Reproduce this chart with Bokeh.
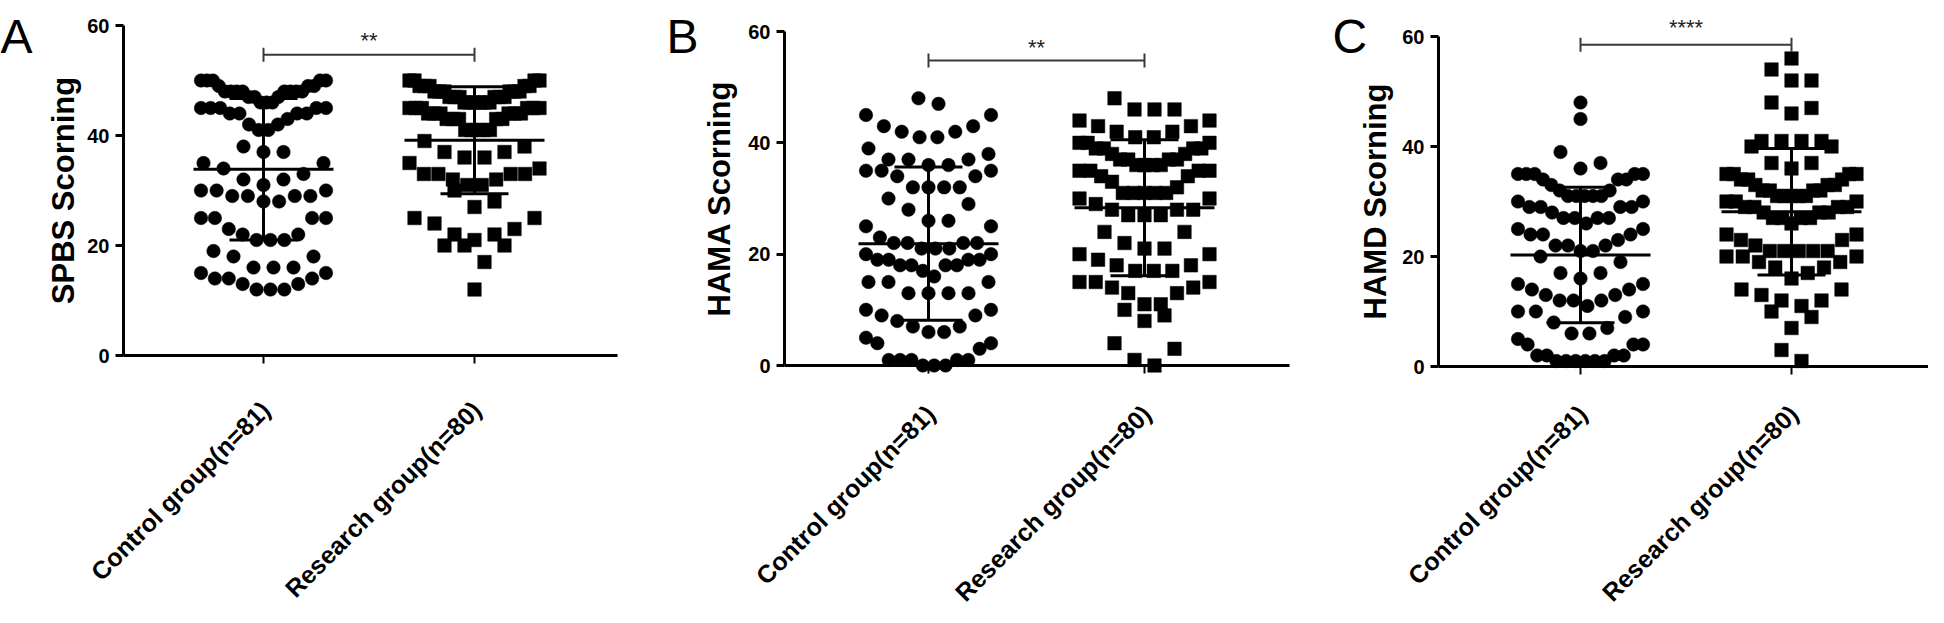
import math
import numpy as np
from bokeh.plotting import figure
from bokeh.models import Range1d, FixedTicker, Label
from bokeh.layouts import row
from bokeh.embed import file_html
from bokeh.resources import INLINE
from bokeh.core.properties import value

# ---------------- data ----------------
groups = ["Control group(n=81)", "Research group(n=80)"]
panel_letters = ["A", "B", "C"]
y_titles = ["SPBS Scorning", "HAMA Scorning", "HAMD Scorning"]
significance = ["**", "**", "****"]
y_ticks = [0, 20, 40, 60]

spbs_control = [50, 50, 50, 50, 50, 49, 49, 49, 48, 48, 48, 48, 48, 48, 48, 48,
                47, 47, 47, 46, 46, 46, 45, 45, 45, 45, 45, 44, 44, 44, 44, 43,
                42, 42, 41, 41, 38, 37, 37, 35, 35, 34, 33, 32, 32, 31, 30, 30,
                30, 29, 29, 29, 29, 28, 28, 25, 25, 25, 25, 23, 22, 22, 21, 21,
                21, 19, 18, 18, 16, 16, 16, 15, 15, 14, 14, 14, 13, 13, 12, 12, 12]
spbs_research = [50, 50, 50, 50, 49, 49, 49, 49, 49, 48, 48, 48, 48, 48, 48,
                 47, 47, 47, 47, 47, 47, 46, 46, 46, 46, 46, 46, 45, 45, 45, 45,
                 45, 45, 44, 44, 44, 44, 44, 44, 43, 43, 43, 43, 43, 41, 41, 41,
                 41, 41, 39, 38, 37, 37, 36, 36, 35, 34, 33, 33, 33, 33, 32, 32,
                 31, 31, 30, 28, 27, 25, 25, 24, 23, 22, 22, 21, 20, 20, 20, 17, 12]

hama_control = [48, 47, 45, 45, 43, 43, 42, 42, 41, 41, 39, 38, 37, 37, 37, 36,
                36, 35, 35, 35, 34, 34, 32, 32, 32, 32, 30, 29, 28, 26, 26, 25,
                25, 23, 22, 22, 22, 22, 21, 21, 21, 20, 20, 19, 19, 19, 19, 18,
                18, 18, 18, 17, 16, 15, 15, 15, 13, 13, 13, 13, 10, 10, 9, 9, 8,
                7, 7, 6, 6, 5, 4, 4, 3, 1, 1, 1, 1, 1, 0, 0, 0]
hama_research = [48, 46, 46, 46, 44, 44, 43, 43, 42, 42, 41, 41, 40, 40, 40, 39,
                 39, 39, 39, 38, 38, 37, 37, 37, 37, 36, 36, 36, 36, 35, 35, 35,
                 35, 34, 34, 33, 32, 31, 31, 31, 31, 31, 30, 30, 29, 28, 28, 28,
                 27, 27, 27, 24, 24, 22, 21, 21, 20, 20, 19, 18, 18, 17, 17, 17,
                 15, 15, 15, 14, 14, 13, 13, 11, 11, 10, 9, 8, 4, 3, 1, 0]

hamd_control = [48, 45, 39, 37, 36, 35, 35, 35, 35, 35, 34, 34, 34, 33, 32, 32,
                31, 31, 31, 31, 31, 30, 30, 29, 29, 29, 29, 28, 27, 27, 27, 27,
                26, 25, 25, 24, 24, 24, 23, 22, 22, 22, 21, 21, 20, 19, 17, 17,
                16, 15, 15, 14, 14, 13, 13, 12, 12, 12, 11, 10, 10, 10, 9, 8, 7,
                6, 6, 5, 4, 4, 4, 2, 2, 2, 2, 1, 1, 1, 1, 1, 1]
hamd_research = [56, 54, 52, 52, 48, 47, 46, 41, 41, 41, 41, 40, 40, 37, 37, 36,
                 35, 35, 35, 35, 34, 34, 34, 33, 33, 33, 32, 32, 32, 32, 31, 31,
                 31, 31, 31, 30, 30, 30, 29, 29, 29, 29, 28, 28, 28, 27, 27, 27,
                 27, 26, 24, 24, 23, 23, 22, 21, 21, 21, 21, 21, 20, 20, 20, 19,
                 19, 18, 18, 17, 16, 14, 14, 13, 12, 12, 11, 10, 9, 7, 3, 1]

controls = [spbs_control, hama_control, hamd_control]
researches = [spbs_research, hama_research, hamd_research]

FONT = "Liberation Sans"
H = 607


def scatter_offsets(vals, spacing=20.0, wmax=125.0):
    """Prism-like column scatter: values grouped in 5-unit bands, each band laid
    out as a row (lowest values in the middle), returned as pixel offsets."""
    vals = list(vals)
    bands = {}
    for i, v in enumerate(vals):
        bands.setdefault(max(v - 1, 0) // 5, []).append(i)
    off = np.zeros(len(vals))
    for idxs in bands.values():
        idxs = sorted(idxs, key=lambda i: vals[i])
        n = len(idxs)
        s = spacing if n < 2 else min(spacing, wmax / (n - 1))
        slots = []
        if n % 2 == 1:
            slots.append(0.0)
            j = 1
            while len(slots) < n:
                slots += [j * s, -j * s]
                j += 1
        else:
            j = 0
            while len(slots) < n:
                slots += [(j + 0.5) * s, -(j + 0.5) * s]
                j += 1
        for k, i in enumerate(idxs):
            off[i] = slots[k]
    return off


def panel(idx, fig_w, fl, fr, cat1, cat2, y0, y60, bracket_v, star_v,
          letter_px, letter_base, title_px):
    ctrl, res = controls[idx], researches[idx]
    ppu = (y0 - y60) / 60.0
    ppx = float(cat2 - cat1)

    def xd(px):
        return 1 + (px - cat1) / ppx

    def yd(py):
        return (y0 - py) / ppu

    p = figure(width=fig_w, height=H, output_backend="svg", toolbar_location=None,
               x_range=Range1d(xd(0), xd(fig_w)), y_range=Range1d(yd(H), yd(0)),
               min_border_left=0, min_border_right=0,
               min_border_top=0, min_border_bottom=0)
    p.outline_line_color = None
    p.grid.visible = False
    p.background_fill_color = "white"
    p.border_fill_color = "white"

    # points
    for cat, vals, marker, wmax in ((1, ctrl, "circle", 125.0), (2, res, "square", 130.0)):
        off = scatter_offsets(vals, 20.0, wmax)
        xv = cat + off / ppx
        p.scatter(xv, vals, marker=marker, size=13.5, fill_color="black",
                  line_color="black", line_width=0.5)

    # mean and SD
    for cat, vals in ((1, ctrl), (2, res)):
        m = float(np.mean(vals))
        s = float(np.std(vals, ddof=1))
        hw = 70 / ppx
        cw = 34 / ppx
        p.segment(x0=[cat - hw, cat - cw, cat - cw, cat], y0=[m, m + s, m - s, m - s],
                  x1=[cat + hw, cat + cw, cat + cw, cat], y1=[m, m + s, m - s, m + s],
                  line_color="black", line_width=3)

    # significance bracket
    tick = 7 / ppu
    p.segment(x0=[1, 1, 2], y0=[bracket_v, bracket_v - tick, bracket_v - tick],
              x1=[2, 1, 2], y1=[bracket_v, bracket_v + tick, bracket_v + tick],
              line_color="#3a3a3a", line_width=2)
    p.text(x=[1.5], y=[star_v], text=[significance[idx]], text_align="center",
           text_baseline="alphabetic", text_font=value(FONT), text_font_size="22px",
           text_color="#222222")

    # axes
    ya = p.yaxis[0]
    ya.fixed_location = xd(fl)
    ya.ticker = FixedTicker(ticks=y_ticks)
    ya.bounds = (0, 60)
    ya.axis_line_width = 3
    ya.major_tick_line_width = 3
    ya.major_tick_out = 8
    ya.major_tick_in = 0
    ya.minor_tick_line_color = None
    ya.major_label_text_font = FONT
    ya.major_label_text_font_style = "bold"
    ya.major_label_text_font_size = "20px"
    ya.major_label_text_color = "black"
    ya.major_label_standoff = 6
    ya.axis_label_text_font_size = "0px"

    # y-axis title as rotated text
    p.text(x=[xd(title_px)], y=[30], text=[y_titles[idx]], angle=math.pi / 2,
           text_align="center", text_baseline="middle", text_font=value(FONT),
           text_font_style="bold", text_font_size="31px", text_color="black")

    xa = p.xaxis[0]
    xa.fixed_location = 0
    xa.bounds = (xd(fl), xd(fr))
    xa.ticker = FixedTicker(ticks=[1, 2])
    xa.major_label_overrides = {1: "", 2: ""}
    xa.major_label_text_color = None
    xa.axis_line_width = 3
    xa.major_tick_line_width = 2
    xa.major_tick_out = 8
    xa.major_tick_in = 0
    xa.minor_tick_line_color = None

    # category labels, rotated 45 degrees, ending just below each tick
    end_local = min(y0 + 50, 409)
    p.text(x=[1 + 2 / ppx, 2 + 2 / ppx], y=[yd(end_local)] * 2, text=groups,
           angle=math.pi / 4, text_align="right", text_baseline="middle",
           text_font=value(FONT), text_font_style="bold", text_font_size="25px",
           text_color="black")

    # panel letter
    p.add_layout(Label(x=xd(letter_px), y=yd(letter_base), text=panel_letters[idx],
                       text_font=FONT, text_font_size="48px", text_color="black",
                       text_baseline="alphabetic", text_align="left"))
    return p


pA = panel(0, 640, 123, 617, 263, 474, 355, 25, 54.7, 57.3, 0, 36, 63)
pB = panel(1, 677, 144, 649, 288, 504, 365, 31, 54.8, 57.2, 26, 36, 79)
pC = panel(2, 611, 121, 611, 263, 474, 366, 36, 58.5, 61.7, 15, 36, 58)

layout = row(pA, pB, pC)
open("out.html", "w").write(file_html(layout, INLINE))
